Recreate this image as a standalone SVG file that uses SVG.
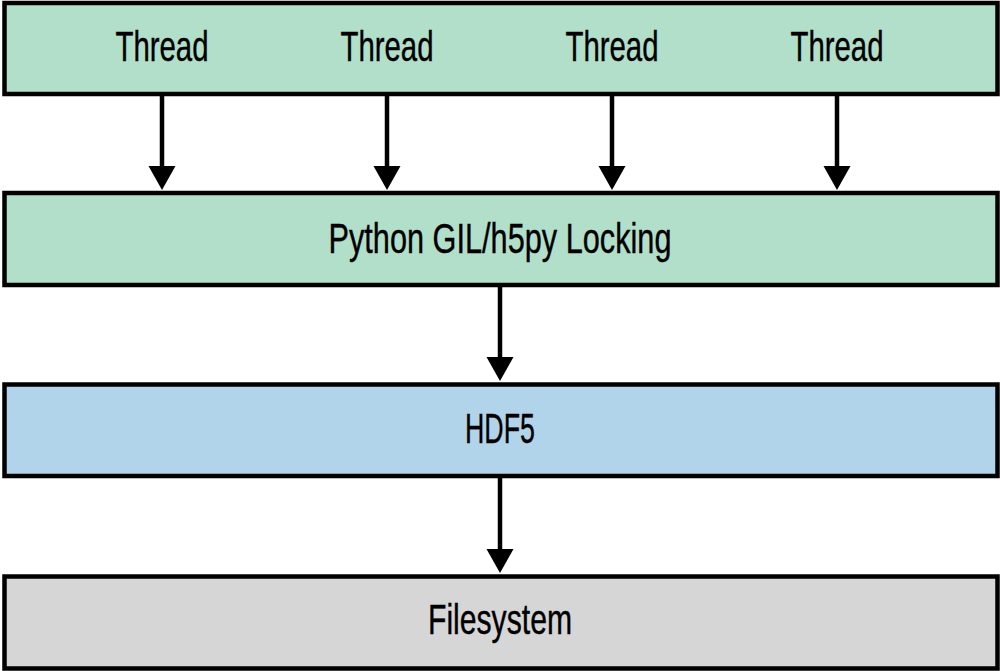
<svg xmlns="http://www.w3.org/2000/svg" width="1000" height="671" viewBox="0 0 1000 671">
<style>
.box{stroke:#000;stroke-width:4.5}
.green{fill:#b2dfca}
.blue{fill:#b2d4ea}
.gray{fill:#d6d6d6}
.lbl{font-family:"Liberation Sans",Arial,sans-serif;font-size:42px;fill:#000;text-anchor:middle;stroke:#000;stroke-width:0.4}
.conn{stroke:#000;stroke-width:4.5;fill:none}
</style>
<defs>
<marker id="ah" markerUnits="userSpaceOnUse" markerWidth="26" markerHeight="28" refX="12" refY="14" orient="auto" viewBox="0 0 26 28">
<path d="M0,0.5 L24,14 L0,27.5 z" fill="#000"/>
</marker>
</defs>
<rect width="1000" height="671" fill="#fff"/>
<g id="threads">
<rect class="box green" x="4.5" y="3" width="993" height="91"/>
<text class="lbl" x="162" y="61" textLength="93" lengthAdjust="spacingAndGlyphs">Thread</text>
<text class="lbl" x="387" y="61" textLength="93" lengthAdjust="spacingAndGlyphs">Thread</text>
<text class="lbl" x="612" y="61" textLength="93" lengthAdjust="spacingAndGlyphs">Thread</text>
<text class="lbl" x="837" y="61" textLength="93" lengthAdjust="spacingAndGlyphs">Thread</text>
</g>
<g id="locking">
<rect class="box green" x="4.5" y="193" width="993" height="92"/>
<text class="lbl" x="500" y="253" textLength="343" lengthAdjust="spacingAndGlyphs">Python GIL/h5py Locking</text>
</g>
<g id="hdf5">
<rect class="box blue" x="4.5" y="384.5" width="993" height="91.5"/>
<text class="lbl" x="500" y="443" textLength="70" lengthAdjust="spacingAndGlyphs">HDF5</text>
</g>
<g id="filesystem">
<rect class="box gray" x="4.5" y="576.5" width="993" height="92"/>
<text class="lbl" x="500" y="634" textLength="144" lengthAdjust="spacingAndGlyphs">Filesystem</text>
</g>
<g id="connectors">
<line class="conn" x1="162" y1="96" x2="162" y2="178" marker-end="url(#ah)"/>
<line class="conn" x1="387" y1="96" x2="387" y2="178" marker-end="url(#ah)"/>
<line class="conn" x1="612" y1="96" x2="612" y2="178" marker-end="url(#ah)"/>
<line class="conn" x1="837" y1="96" x2="837" y2="178" marker-end="url(#ah)"/>
<line class="conn" x1="500" y1="287" x2="500" y2="369" marker-end="url(#ah)"/>
<line class="conn" x1="500" y1="478" x2="500" y2="561" marker-end="url(#ah)"/>
</g>
</svg>
